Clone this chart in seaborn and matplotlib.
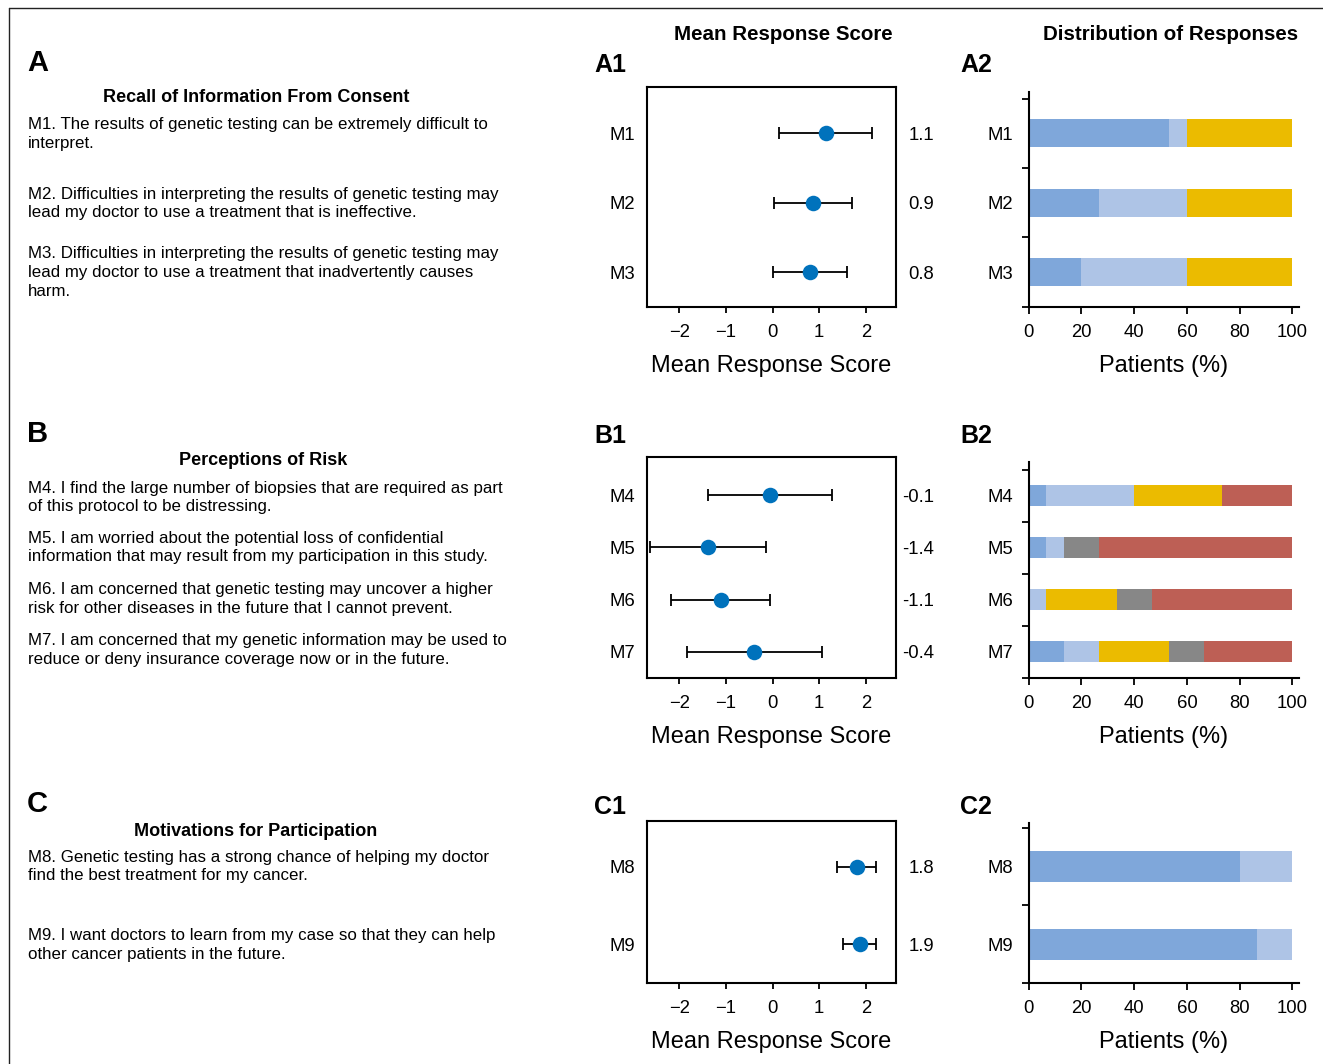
import matplotlib
matplotlib.use("Agg")  # headless
import matplotlib.pyplot as plt
from matplotlib import font_manager
from matplotlib.lines import Line2D
from matplotlib.ticker import FixedLocator
import numpy as np
import seaborn as sns

sns.set_theme(style="ticks")
plt.rcParams["font.family"] = ["Liberation Sans", "DejaVu Sans"]
plt.rcParams.update({
    "text.color": "black", "axes.labelcolor": "black", "axes.edgecolor": "black",
    "xtick.color": "black", "ytick.color": "black",
})

W, H = 1323, 1064

# ---- data ----
ITEMS_A = ["M1", "M2", "M3"]
MEAN_A = [1.14, 0.87, 0.80]
LOW_A = [0.14, 0.03, 0.02]
HIGH_A = [2.13, 1.71, 1.59]

ITEMS_B = ["M4", "M5", "M6", "M7"]
MEAN_B = [-0.06, -1.38, -1.11, -0.39]
LOW_B = [-1.38, -2.62, -2.17, -1.84]
HIGH_B = [1.28, -0.15, -0.06, 1.06]

ITEMS_C = ["M8", "M9"]
MEAN_C = [1.80, 1.87]
LOW_C = [1.38, 1.51]
HIGH_C = [2.21, 2.21]

LEVELS = ["Strongly agree", "Agree", "Neutral", "Disagree", "Strongly disagree"]
LEVEL_COLORS = ["#7FA7DA", "#AEC4E6", "#EBBB00", "#878787", "#BD5F55"]

# % of patients per item, columns follow LEVELS
PCT_A = [[53.3, 6.7, 40.0, 0.0, 0.0],
         [26.7, 33.3, 40.0, 0.0, 0.0],
         [20.0, 40.0, 40.0, 0.0, 0.0]]
PCT_B = [[6.7, 33.3, 33.3, 0.0, 26.7],
         [6.7, 6.7, 0.0, 13.3, 73.3],
         [0.0, 6.7, 26.7, 13.3, 53.3],
         [13.3, 13.3, 26.7, 13.3, 33.3]]
PCT_C = [[80.0, 20.0, 0.0, 0.0, 0.0],
         [86.7, 13.3, 0.0, 0.0, 0.0]]

SECTION_TITLES = ["Recall of Information From Consent", "Perceptions of Risk",
                  "Motivations for Participation"]
STATEMENTS_A = [
    ["M1. The results of genetic testing can be extremely difficult to", "interpret."],
    ["M2. Difficulties in interpreting the results of genetic testing may",
     "lead my doctor to use a treatment that is ineffective."],
    ["M3. Difficulties in interpreting the results of genetic testing may",
     "lead my doctor to use a treatment that inadvertently causes", "harm."],
]
STATEMENTS_B = [
    ["M4. I find the large number of biopsies that are required as part",
     "of this protocol to be distressing."],
    ["M5. I am worried about the potential loss of confidential",
     "information that may result from my participation in this study."],
    ["M6. I am concerned that genetic testing may uncover a higher",
     "risk for other diseases in the future that I cannot prevent."],
    ["M7. I am concerned that my genetic information may be used to",
     "reduce or deny insurance coverage now or in the future."],
]
STATEMENTS_C = [
    ["M8. Genetic testing has a strong chance of helping my doctor",
     "find the best treatment for my cancer."],
    ["M9. I want doctors to learn from my case so that they can help",
     "other cancer patients in the future."],
]

DOT = "#0072BC"
TICK_FS = 13.3
BODY_FS = 12.2

names = {f.name for f in font_manager.fontManager.ttflist}
if "Liberation Sans Narrow" in names:
    LABEL_KW = dict(family=["Liberation Sans Narrow", "DejaVu Sans"], fontsize=20)
else:
    LABEL_KW = dict(family=["Liberation Sans", "DejaVu Sans"], fontsize=17)


def rect_px(left, top, right, bottom):
    return [left / W, 1 - bottom / H, (right - left) / W, (bottom - top) / H]


def ftext(x, y, s, **kw):
    fig.text(x / W, 1 - y / H, s, va="baseline", **kw)


def mean_panel(rect, items, means, low, high, ytop):
    ax = fig.add_axes(rect)
    means = np.asarray(means)
    xerr = [means - np.asarray(low), np.asarray(high) - means]
    ax.errorbar(means, items, xerr=xerr, fmt="none", ecolor="black",
                elinewidth=1.3, capsize=4.5, capthick=1.3, zorder=2)
    sns.scatterplot(x=means, y=items, color=DOT, s=125, linewidth=0, zorder=3, ax=ax)
    ax.set_xlim(-2.69, 2.64)
    ax.set_ylim(len(items) - 0.5, ytop)
    ax.set_xticks([-2, -1, 0, 1, 2])
    for s in ax.spines.values():
        s.set_linewidth(1.5)
    ax.tick_params(axis="y", length=0, pad=8.5, labelsize=TICK_FS)
    ax.tick_params(axis="x", length=4, width=1.3, pad=8.3, labelsize=TICK_FS)
    # rounded mean shown right of the box, right-aligned
    for item, m in zip(items, means):
        ax.text(1.153, item, f"{m:.1f}", transform=ax.get_yaxis_transform(),
                ha="right", va="center_baseline", fontsize=TICK_FS)
    ax.set_xlabel("Mean Response Score", labelpad=10, **LABEL_KW)
    ax.set_ylabel("")
    return ax


def dist_panel(rect, items, pct, ytop):
    ax = fig.add_axes(rect)
    cum = np.cumsum(np.asarray(pct, dtype=float), axis=1)
    # draw cumulative bars from the widest down so they look stacked
    for k in range(len(LEVELS) - 1, -1, -1):
        sns.barplot(x=cum[:, k], y=items, color=LEVEL_COLORS[k], width=0.4,
                    orient="h", errorbar=None, linewidth=0, saturation=1, ax=ax)
    ax.set_xlim(0, 102.6)
    ax.set_ylim(len(items) - 0.5, ytop)
    ax.set_xticks(range(0, 101, 20))
    sns.despine(ax=ax)
    for s in ax.spines.values():
        s.set_linewidth(1.5)
    ax.yaxis.set_minor_locator(FixedLocator(np.arange(len(items) + 1) - 0.5))
    ax.tick_params(axis="y", which="major", length=0, pad=11, labelsize=TICK_FS)
    ax.tick_params(axis="y", which="minor", length=5, width=1.3)
    ax.tick_params(axis="x", length=4.8, width=1.3, pad=7.6, labelsize=TICK_FS)
    ax.set_xlabel("Patients (%)", labelpad=10, **LABEL_KW)
    ax.set_ylabel("")
    return ax


fig = plt.figure(figsize=(W / 100, H / 100), dpi=100)

# frame lines (top and left)
fig.add_artist(Line2D([8.7 / W, 1], [1 - 8.3 / H] * 2, color="#222222", lw=1))
fig.add_artist(Line2D([8.7 / W] * 2, [0, 1 - 8.3 / H], color="#222222", lw=1))

mean_panel(rect_px(647, 87.3, 895.7, 307.3), ITEMS_A, MEAN_A, LOW_A, HIGH_A, -0.66)
mean_panel(rect_px(647, 457.3, 895.7, 677.7), ITEMS_B, MEAN_B, LOW_B, HIGH_B, -0.73)
mean_panel(rect_px(647, 820.7, 895.7, 983.3), ITEMS_C, MEAN_C, LOW_C, HIGH_C, -0.59)

dist_panel(rect_px(1028.7, 91.7, 1299.3, 306.7), ITEMS_A, PCT_A, -0.6)
dist_panel(rect_px(1028.7, 461.7, 1299.3, 677.7), ITEMS_B, PCT_B, -0.65)
dist_panel(rect_px(1028.7, 823.3, 1299.3, 983.0), ITEMS_C, PCT_C, -0.56)

# column headers
ftext(783, 40, "Mean Response Score", ha="center", fontsize=14.8, fontweight="bold")
ftext(1171, 40, "Distribution of Responses", ha="center", fontsize=14.8, fontweight="bold")

# panel letters
for letter, base in zip("ABC", [71, 441.7, 812.5]):
    ftext(27, base, letter, fontsize=21, fontweight="bold")
    ftext(594, base + 1, letter + "1", fontsize=18, fontweight="bold")
    ftext(960, base + 1, letter + "2", fontsize=18, fontweight="bold")

# section titles and statements
title_pos = [(256, 102.3), (263, 465), (255.5, 836)]
statement_sets = [
    (STATEMENTS_A, [129.3, 198.7, 258.3]),
    (STATEMENTS_B, [492.7, 542.7, 594.3, 645]),
    (STATEMENTS_C, [861.7, 940]),
]
for (tx, ty), title, (stmts, bases) in zip(title_pos, SECTION_TITLES, statement_sets):
    ftext(tx, ty, title, ha="center", fontsize=13, fontweight="bold")
    for lines, base in zip(stmts, bases):
        for i, line in enumerate(lines):
            ftext(28, base + i * 18.6, line, fontsize=BODY_FS)

fig.savefig("out.png", dpi=100)
